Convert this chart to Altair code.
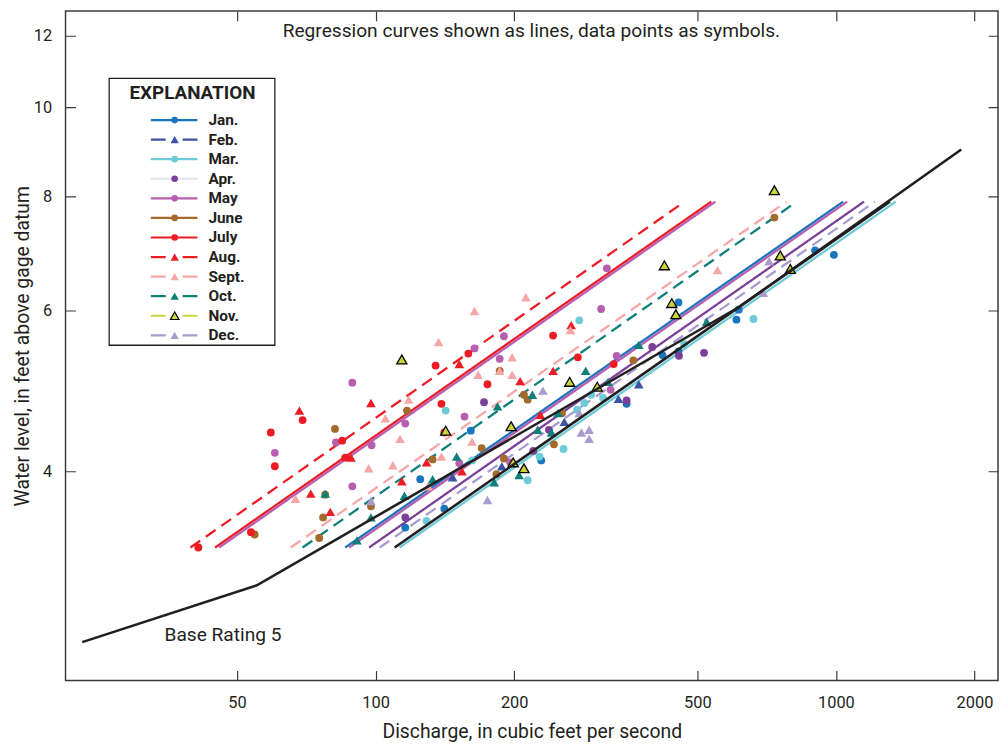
import altair as alt
import pandas as pd

FONT = "Roboto, Liberation Sans, sans-serif"
INK = "#231f20"

# ---------------- categories / legend ----------------
months = ["Jan.", "Feb.", "Mar.", "Apr.", "May", "June", "July", "Aug.", "Sept.", "Oct.", "Nov.", "Dec."]
month_colors = ["#1b75bc", "#3a53a4", "#6dcbd8", "#7b3f98", "#b75eb0", "#a46a2c",
                "#ed1c24", "#ed1c24", "#f7a6a8", "#0f7f7a", "#cbd53a", "#a99bd0"]
legend_line_colors = ["#1b75bc", "#3a53a4", "#6dcbd8", "#e2e2ee", "#b75eb0", "#a46a2c",
                      "#ed1c24", "#ed1c24", "#f7a6a8", "#0f7f7a", "#cbd53a", "#a99bd0"]
month_dashed = [False, True, False, False, False, False, False, True, True, True, True, True]
triangle_months = ["Feb.", "Aug.", "Sept.", "Oct.", "Dec."]

# ---------------- measured points (discharge cfs, water level ft) ----------------
jan_pts = [(116, 3.47), (125, 3.92), (141, 3.64), (161, 4.43), (229, 4.11), (351, 4.74), (420, 5.36),
           (455, 5.41), (455, 6.12), (608, 5.86), (615, 6.01), (901, 6.98), (990, 6.90)]
feb_pts = [(147, 3.94), (188, 4.05), (257, 4.53), (337, 4.80), (373, 4.98)]
mar_pts = [(129, 3.53), (142, 4.66), (162, 4.11), (214, 3.91), (227, 4.15), (256, 4.23), (274, 4.67),
           (284, 4.75), (294, 4.85), (312, 4.81), (277, 5.85), (468, 5.51), (662, 5.87)]
apr_pts = [(116, 3.56), (172, 4.76), (220, 4.21), (238, 4.44), (351, 4.78), (399, 5.47), (456, 5.35), (517, 5.39)]
may_pts = [(60.4, 4.19), (82, 4.30), (89, 5.00), (89, 3.85), (98, 4.27), (116, 4.51), (152, 4.08),
           (156, 4.59), (164, 5.45), (186, 5.31), (190, 5.62), (196, 4.09), (309, 6.02), (318, 6.67),
           (324, 4.91), (334, 5.35)]
june_pts = [(54.6, 3.41), (75.4, 3.38), (76.9, 3.56), (77.7, 3.77), (81.6, 4.45), (97.7, 3.66), (117, 4.66),
            (133, 4.12), (170, 4.24), (183, 3.97), (186, 5.15), (190, 4.13), (210, 4.85), (214, 4.79),
            (244, 4.28), (254, 4.63), (363, 5.29), (735, 7.58)]
july_pts = [(41.2, 3.30), (53.6, 3.43), (59.2, 4.41), (60.4, 4.05), (69.4, 4.55), (84.6, 4.32), (85.9, 4.14),
            (135, 5.22), (139, 4.74), (141, 4.41), (159, 5.38), (175, 4.98), (243, 5.63), (275, 5.33), (329, 5.24)]
aug_pts = [(68.3, 4.66), (72.3, 3.78), (79.7, 3.61), (88.4, 4.14), (97.7, 4.75), (114, 3.90), (129, 4.09),
           (152, 5.24), (154, 4.00), (206, 5.02), (228, 4.61), (243, 5.15), (266, 5.78)]
sept_pts = [(67, 3.73), (96.6, 4.03), (105, 4.57), (109, 4.06), (113, 4.34), (118, 4.79), (130, 3.85),
            (137, 5.54), (139, 4.15), (162, 4.31), (164, 5.99), (167, 5.10), (186, 5.15), (198, 5.33),
            (198, 5.10), (212, 6.20), (265, 5.71), (553, 6.64)]
oct_pts = [(77.7, 3.78), (91.1, 3.36), (97.7, 3.56), (115.5, 3.76), (133, 3.92), (150, 4.15), (181, 3.89),
           (184, 4.71), (205, 3.96), (219, 4.85), (225, 4.44), (241, 4.41), (249, 4.63), (286, 5.15),
           (320, 5.01), (373, 5.50), (524, 5.83)]
nov_pts = [(114, 5.30), (142, 4.43), (197, 4.48), (199, 4.09), (210, 4.03), (264, 5.01), (303, 4.95),
           (424, 6.72), (440, 6.11), (449, 5.94), (735, 8.12), (757, 6.89), (796, 6.66)]
dec_pts = [(97.7, 3.71), (175, 3.72), (231, 4.90), (277, 4.63), (280, 4.41), (291, 4.44), (291, 4.34),
           (695, 6.27), (716, 6.79)]

points_by_month = {
    "Jan.": jan_pts, "Feb.": feb_pts, "Mar.": mar_pts, "Apr.": apr_pts, "May": may_pts, "June": june_pts,
    "July": july_pts, "Aug.": aug_pts, "Sept.": sept_pts, "Oct.": oct_pts, "Nov.": nov_pts, "Dec.": dec_pts,
}

# ---------------- regression lines (end points) ----------------
reg_month = ["Aug.", "July", "May", "Sept.", "Oct.", "Jan.", "May", "Apr.", "Dec.", "Mar."]
reg_q_start = [39.6, 44.8, 45.7, 65.4, 69.4, 85.9, 87.6, 96.8, 102, 112.7]
reg_q_end = [469, 536, 547, 781, 822, 1037, 1058, 1151, 1216, 1349]
reg_h_start = [3.30] * 10
reg_h_end = [7.89] * 10

# ---------------- base rating (black) ----------------
base_q = [23.05, 55.2, 616, 1872]
base_h = [2.60, 3.00, 6.05, 9.00]
shift_q = [110, 1310]
shift_h = [3.30, 7.89]

# ---------------- build tables ----------------
rows = []
for m, pts in points_by_month.items():
    for q, h in pts:
        rows.append({"month": m, "Q": q, "h": h})
pts_df = pd.DataFrame(rows)
circ_df = pts_df[~pts_df["month"].isin(triangle_months + ["Nov."])]
tri_df = pts_df[pts_df["month"].isin(triangle_months)]
nov_df = pts_df[pts_df["month"] == "Nov."]

reg_rows = []
for i, m in enumerate(reg_month):
    reg_rows.append({"line": i, "month": m, "Q": reg_q_start[i], "h": reg_h_start[i]})
    reg_rows.append({"line": i, "month": m, "Q": reg_q_end[i], "h": reg_h_end[i]})
reg_df = pd.DataFrame(reg_rows)

blk_rows = [{"line": "base", "Q": q, "h": h} for q, h in zip(base_q, base_h)]
blk_rows += [{"line": "shift", "Q": q, "h": h} for q, h in zip(shift_q, shift_h)]
blk_df = pd.DataFrame(blk_rows)

notes_df = pd.DataFrame({
    "Q": [218, 46.6],
    "h": [12.12, 2.65],
    "label": ["Regression curves shown as lines, data points as symbols.", "Base Rating 5"],
})

leg_df = pd.DataFrame({"month": months, "dashed": month_dashed})
leg_df["kind"] = ["nov" if m == "Nov." else ("tri" if m in triangle_months else "circle") for m in months]

# ---------------- scales / axes ----------------
xscale = alt.Scale(type="log", domain=[21.2, 2250], nice=False)
yscale = alt.Scale(type="log", domain=[2.36, 12.76], nice=False, zero=False)
xaxis = alt.Axis(values=[50, 100, 200, 500, 1000, 2000], format="d",
                 title="Discharge, in cubic feet per second",
                 labelFont=FONT, labelFontSize=16.5, labelColor=INK, labelPadding=14, labelFlush=False,
                 titleFont=FONT, titleFontSize=19.5, titleFontWeight="normal", titleColor=INK, titlePadding=12,
                 domain=False, ticks=False, tickSize=0,
                 grid=True, gridColor="#3a3a3a", gridWidth=1.2, gridDash=[10, 655, 10, 3000])
yaxis = alt.Axis(values=[4, 6, 8, 10, 12], format="d",
                 title="Water level, in feet above gage datum",
                 labelFont=FONT, labelFontSize=16.5, labelColor=INK, labelPadding=14,
                 titleFont=FONT, titleFontSize=19.5, titleFontWeight="normal", titleColor=INK, titlePadding=1,
                 domain=False, ticks=False, tickSize=0,
                 grid=True, gridColor="#3a3a3a", gridWidth=1.2, gridDash=[10, 920, 10, 3000])
X = alt.X("Q:Q", scale=xscale, axis=xaxis)
Y = alt.Y("h:Q", scale=yscale, axis=yaxis)

color_scale = alt.Scale(domain=months, range=month_colors)
dash_scale = alt.Scale(domain=months, range=[[12, 7] if d else [1, 0] for d in month_dashed])

reg_layer = alt.Chart(reg_df).mark_line(strokeWidth=2.3, clip=True).encode(
    x=X, y=Y,
    color=alt.Color("month:N", scale=color_scale, legend=None),
    strokeDash=alt.StrokeDash("month:N", scale=dash_scale, legend=None),
    detail="line:N",
)
circ_layer = alt.Chart(circ_df).mark_point(filled=True, shape="circle", size=62, opacity=1).encode(
    x=X, y=Y, color=alt.Color("month:N", scale=color_scale, legend=None))
tri_layer = alt.Chart(tri_df).mark_point(filled=True, shape="triangle-up", size=95, opacity=1).encode(
    x=X, y=Y, color=alt.Color("month:N", scale=color_scale, legend=None))
nov_layer = alt.Chart(nov_df).mark_point(filled=True, shape="triangle-up", size=105, opacity=1,
                                         fill="#cbd53a", stroke="black", strokeWidth=1.3).encode(x=X, y=Y)
blk_layer = alt.Chart(blk_df).mark_line(color=INK, strokeWidth=2.6).encode(x=X, y=Y, detail="line:N")
text_layer = alt.Chart(notes_df).mark_text(font=FONT, fontSize=19.3, color=INK, align="center",
                                           baseline="middle").encode(x=X, y=Y, text="label:N")

plot = alt.layer(reg_layer, circ_layer, tri_layer, nov_layer, blk_layer, text_layer)

# ---------------- EXPLANATION box (rows placed by a month scale) ----------------
LY = alt.Y("month:N", scale=alt.Scale(type="point", domain=months, range=[110, 327], padding=0), axis=None)
leg_stroke = alt.Stroke("month:N", scale=alt.Scale(domain=months, range=legend_line_colors), legend=None)
leg_fill = alt.Fill("month:N", scale=alt.Scale(domain=months, range=month_colors), legend=None)
leg_base = alt.Chart(leg_df)

box = alt.Chart(pd.DataFrame({"k": [0]})).mark_rect(fill="white", stroke=INK, strokeWidth=1.3).encode(
    x=alt.value(44), x2=alt.value(211), y=alt.value(68), y2=alt.value(337))
title = alt.Chart(pd.DataFrame({"t": ["EXPLANATION"]})).mark_text(
    font=FONT, fontSize=19, fontWeight="bold", color=INK, align="center", baseline="middle").encode(
    x=alt.value(128), y=alt.value(83), text="t:N")
solid_rules = leg_base.transform_filter("!datum.dashed").mark_rule(strokeWidth=2.2).encode(
    x=alt.value(86), x2=alt.value(133), y=LY, stroke=leg_stroke)
dash_rules = leg_base.transform_filter("datum.dashed").mark_rule(strokeWidth=2.2, strokeDash=[15, 17, 15]).encode(
    x=alt.value(86), x2=alt.value(133), y=LY, stroke=leg_stroke)
leg_circ = leg_base.transform_filter("datum.kind == 'circle'").mark_point(
    filled=True, shape="circle", size=45, opacity=1).encode(x=alt.value(110), y=LY, fill=leg_fill)
leg_tri = leg_base.transform_filter("datum.kind == 'tri'").mark_point(
    filled=True, shape="triangle-up", size=70, opacity=1).encode(x=alt.value(110), y=LY, fill=leg_fill)
leg_nov = leg_base.transform_filter("datum.kind == 'nov'").mark_point(
    filled=True, shape="triangle-up", size=75, opacity=1, stroke="black", strokeWidth=1.2).encode(
    x=alt.value(110), y=LY, fill=leg_fill)
leg_text = leg_base.mark_text(font=FONT, fontSize=15.5, fontWeight="bold", color=INK, align="left",
                              baseline="middle").encode(x=alt.value(144), y=LY, text="month:N")

legend = alt.layer(box, title, solid_rules, dash_rules, leg_circ, leg_tri, leg_nov, leg_text)

chart = alt.layer(plot, legend).resolve_scale(y="independent").properties(
    width=940, height=675,
    autosize=alt.AutoSizeParams(type="none"),
    padding={"left": 58, "top": 0, "right": 2, "bottom": 60},
).configure_view(stroke="#3a3a3a", strokeWidth=1.5)

chart.save("out.html", embed_options={"renderer": "svg", "actions": False})
